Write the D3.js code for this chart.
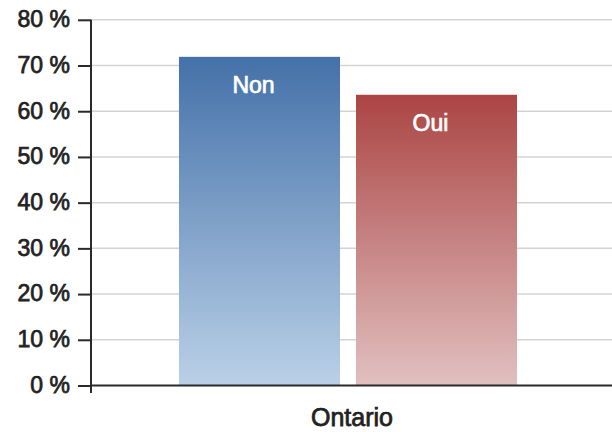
<!DOCTYPE html>
<html><head><meta charset="utf-8">
<script src="https://cdn.jsdelivr.net/npm/d3@7"></script>
<style>body{margin:0;background:#fff}svg{display:block}</style>
</head><body>
<svg id="c" width="612" height="432"></svg>
<script>
const categories = ["Ontario"];
const series = ["Non", "Oui"];
const values = [71.9, 63.6];
const yTicks = [0, 10, 20, 30, 40, 50, 60, 70, 80];
const tickLabels = ["0 %", "10 %", "20 %", "30 %", "40 %", "50 %", "60 %", "70 %", "80 %"];

const svg = d3.select("#c");
const font = "'Liberation Sans', Arial, sans-serif";
const axisX = 91, right = 612;
const y = d3.scaleLinear().domain([0, 80]).range([385.5, 19.8]);
const x0 = d3.scaleBand().domain(categories).range([84, 612]).paddingOuter(0.281).paddingInner(0);
const x1 = d3.scaleBand().domain(series).range([0, x0.bandwidth()]).paddingInner(0.0904).paddingOuter(0);

const grads = [
  {id: "gNon", top: "#4471a9", bottom: "#bad0e7"},
  {id: "gOui", top: "#ab4544", bottom: "#e1c0c0"}
];
const defs = svg.append("defs");
grads.forEach(g => {
  const lg = defs.append("linearGradient").attr("id", g.id).attr("x1", 0).attr("y1", 0).attr("x2", 0).attr("y2", 1);
  lg.append("stop").attr("offset", "0%").attr("stop-color", g.top);
  lg.append("stop").attr("offset", "100%").attr("stop-color", g.bottom);
});

// gridlines
svg.append("g").selectAll("line").data(yTicks.filter(d => d > 0)).join("line")
  .attr("x1", axisX).attr("x2", right).attr("y1", d => y(d)).attr("y2", d => y(d))
  .attr("stroke", "#d3d3d3").attr("stroke-width", 1.5);

// bars
const g = svg.append("g").attr("transform", `translate(${x0("Ontario")},0)`);
g.selectAll("rect").data(series).join("rect")
  .attr("x", d => x1(d)).attr("width", x1.bandwidth())
  .attr("y", (d, i) => y(values[i])).attr("height", (d, i) => y(0) - y(values[i]))
  .attr("fill", (d, i) => `url(#${grads[i].id})`);
g.selectAll("text").data(series).join("text")
  .attr("x", d => x1(d) + x1.bandwidth() / 2 - 6)
  .attr("y", (d, i) => y(values[i]) + 36)
  .attr("text-anchor", "middle").attr("fill", "#fff")
  .attr("stroke", "#fff").attr("stroke-width", 0.7)
  .attr("font-family", font).attr("font-size", 23)
  .text(d => d);

// y axis
const ya = svg.append("g").attr("transform", `translate(${axisX},0)`)
  .call(d3.axisLeft(y).tickValues(yTicks).tickFormat((d, i) => tickLabels[i]).tickSize(13).tickPadding(8));
ya.select(".domain").remove();
ya.selectAll(".tick line").attr("stroke", "#2a2a2a").attr("stroke-width", 2);
ya.selectAll(".tick text").attr("font-family", font).attr("font-size", 23)
  .attr("fill", "#222").attr("stroke", "#222").attr("stroke-width", 0.75).attr("dy", "0.3em");
svg.append("line").attr("x1", axisX).attr("x2", axisX).attr("y1", y(80)).attr("y2", 393)
  .attr("stroke", "#2a2a2a").attr("stroke-width", 2);
svg.append("line").attr("x1", axisX).attr("x2", right).attr("y1", y(0)).attr("y2", y(0))
  .attr("stroke", "#2a2a2a").attr("stroke-width", 2);

// x label
svg.append("text").attr("x", 352).attr("y", 426).attr("text-anchor", "middle")
  .attr("font-family", font).attr("font-size", 25).attr("fill", "#222")
  .attr("stroke", "#222").attr("stroke-width", 0.75)
  .text(categories[0]);
</script>
</body></html>
